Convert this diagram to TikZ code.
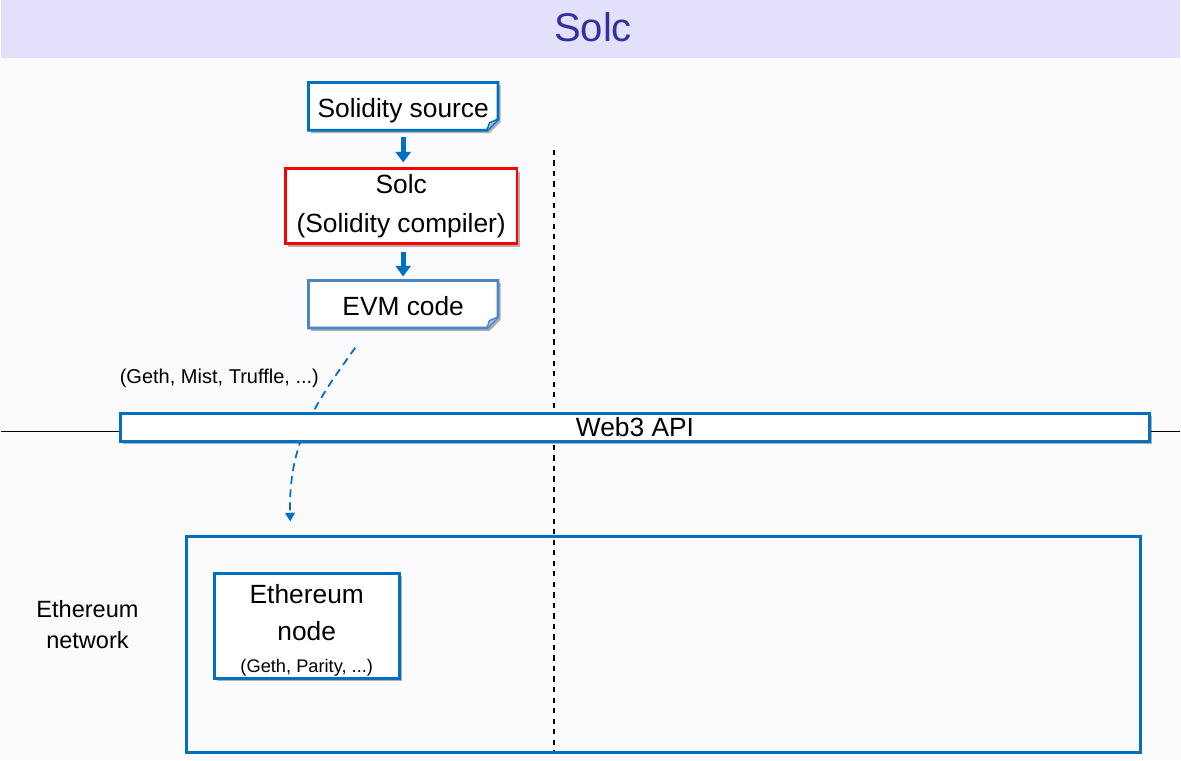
\documentclass[tikz,border=0pt]{standalone}
\usepackage{fontspec}
\setmainfont{Liberation Sans}
\usetikzlibrary{arrows.meta,shadows}
\definecolor{bandcol}{HTML}{E3E0FB}
\definecolor{titlecol}{HTML}{3330A0}
\definecolor{boxblue}{HTML}{0070C0}
\definecolor{docblue}{HTML}{4A86C8}
\definecolor{foldblue}{HTML}{9CC0E8}
\definecolor{bgcol}{HTML}{FBFBFE}
\pgfdeclarelayer{bg}
\pgfdeclarelayer{docs}
\pgfsetlayers{bg,docs,main}
\begin{document}
\begin{tikzpicture}[x=0.02cm,y=-0.02cm,
    boxshadow/.style={drop shadow={shadow xshift=1.6pt,shadow yshift=-1.6pt,fill=black,opacity=0.3}},
    box/.style={draw=boxblue,line width=1.6pt,fill=white,boxshadow,inner sep=0pt,align=center,font=\fontsize{15}{22.5}\selectfont},
    doctext/.style={inner sep=0pt,font=\fontsize{15}{17}\selectfont,minimum width=3.78cm,minimum height=0.94cm,text height=12.4pt,text depth=0pt},
    docline/.style={line width=1.6pt,fill=white,boxshadow,line join=miter},
    blockarrow/.style={boxblue,line width=2.7pt,-{Triangle[width=8.5pt,length=6pt]}},
    small/.style={font=\fontsize{11.4}{13}\selectfont}]
    \begin{pgfonlayer}{bg}
        \useasboundingbox[fill=bgcol] (0,0) rectangle (1181,761);
        \fill[bandcol] (0,0) rectangle (1181,58);
    \end{pgfonlayer}
    \node[text=titlecol,font=\fontsize{22.8}{26}\selectfont] (title) at (593,27) {Solc};
    % compiler chain
    \node[doctext] (src) at (403,106.5) {Solidity source};
    \node[box,draw=red,minimum width=4.64cm,minimum height=1.5cm] (solc) at (401,206.5) {Solc\\(Solidity compiler)};
    \node[doctext] (evm) at (403,304.5) {EVM code};
    \begin{pgfonlayer}{docs}
        \foreach \d/\c in {src/boxblue,evm/docblue} {
            \draw[docline,draw=\c] (\d.north west) -- (\d.north east) -- ([yshift=0.22cm]\d.south east)
                -- ([xshift=-0.22cm]\d.south east) -- (\d.south west) -- cycle;
            \draw[line width=0.8pt,draw=\c,fill=foldblue] ([yshift=0.22cm]\d.south east) -- ([xshift=-0.17cm,yshift=0.15cm]\d.south east)
                -- ([xshift=-0.22cm]\d.south east);
        }
    \end{pgfonlayer}
    \draw[blockarrow,shorten <=0.14cm,shorten >=0.1cm] (src.south) -- (src.south |- solc.north);
    \draw[blockarrow,shorten <=0.14cm,shorten >=0.08cm] (src.south |- solc.south) -- (evm.north);
    \node[small] (tools) at (219,379) {(Geth, Mist, Truffle, ...)};
    % deploy path
    \coordinate (dstart) at (355,348);
    \coordinate (dend) at (290,522);
    \draw[boxblue,line width=1pt,dash pattern=on 4.5pt off 3pt,-{Triangle[width=5.5pt,length=5pt]}]
        (dstart) .. controls (318,400) and (288,440) .. (dend);
    \draw[line width=0.6pt] (0,432) -- (1181,432);
    \draw[dashed,line width=0.8pt] (554,150) -- (554,755);
    \node[box,minimum width=20.6cm,minimum height=0.56cm] (web3) at (635,427.5) {Web3 API};
    % network
    \node[draw=boxblue,line width=1.4pt,minimum width=19.1cm,minimum height=4.32cm] (net) at (663.5,645) {};
    \node[align=center,font=\fontsize{13.4}{18}\selectfont] (netlabel) at (87,625) {Ethereum\\network};
    \node[box,minimum width=3.7cm,minimum height=2.1cm] (enode) at (306.5,626.5) {};
    \node[align=center,font=\fontsize{15}{21}\selectfont] (enodetext) at (306.5,631)
        {Ethereum\\node\\[-3pt]{\fontsize{10.4}{12}\selectfont(Geth, Parity, ...)}};
\end{tikzpicture}
\end{document}
